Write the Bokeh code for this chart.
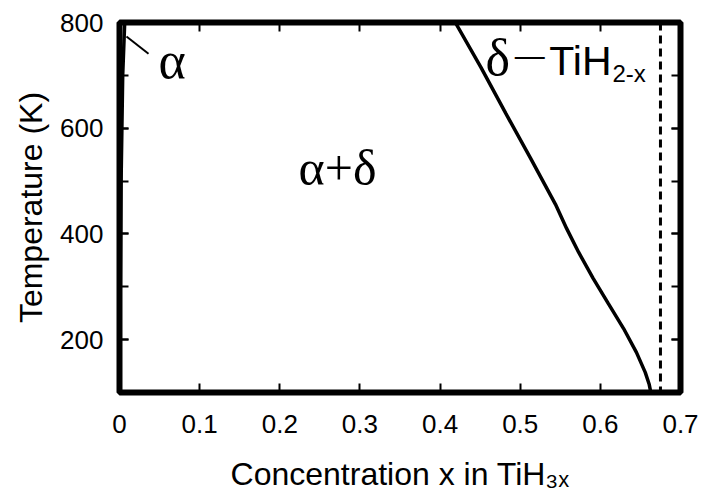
from bokeh.plotting import figure
from bokeh.models import Range1d, FixedTicker, LinearAxis, Label, Span, CustomJSTickFormatter, Title
from bokeh.embed import file_html
from bokeh.resources import INLINE

# ---- data ----
delta_T = [800, 715, 628, 543, 456, 410, 365, 316, 268, 221, 176, 138, 115, 100]
delta_x = [0.419, 0.451, 0.482, 0.513, 0.544, 0.558, 0.573, 0.591, 0.610, 0.629, 0.645, 0.656, 0.661, 0.663]

alpha_T = [100, 300, 500, 600, 700, 800]
alpha_x = [0.0, 0.001, 0.002, 0.003, 0.004, 0.0065]

stoich_x = 0.675  # dashed vertical boundary

leader_x = [0.0087, 0.0362]
leader_y = [773.5, 741.0]

x_ticks = [0, 0.1, 0.2, 0.3, 0.4, 0.5, 0.6, 0.7]
x_tick_labels = ["0", "0.1", "0.2", "0.3", "0.4", "0.5", "0.6", "0.7"]
y_ticks = [200, 400, 600, 800]
y_minor = [100, 200, 300, 400, 500, 600, 700, 800]

SANS = "Liberation Sans"
SERIF = "Liberation Serif"

p = figure(width=703, height=499, x_range=Range1d(0, 0.7), y_range=Range1d(100, 800),
           output_backend="svg", toolbar_location=None,
           min_border_left=119, min_border_right=23, min_border_top=22, min_border_bottom=107,
           x_axis_type=None, y_axis_type=None)
p.grid.visible = False
p.outline_line_color = "black"
p.outline_line_width = 6
p.outline_line_alpha = 1.0
p.background_fill_color = "white"
p.border_fill_color = "white"

xt = FixedTicker(ticks=x_ticks, minor_ticks=[])
yt = FixedTicker(ticks=y_ticks, minor_ticks=y_minor)
blank = CustomJSTickFormatter(code="return ''")

def style(ax, labels=True):
    ax.axis_line_color = None
    ax.major_tick_in = 9
    ax.major_tick_out = 0
    ax.minor_tick_in = 9
    ax.minor_tick_out = 0
    ax.major_tick_line_width = 2
    ax.minor_tick_line_width = 2
    ax.major_tick_line_color = "black"
    ax.minor_tick_line_color = "black"
    ax.major_label_text_font = SANS
    ax.major_label_text_font_size = "26px"
    ax.major_label_text_color = "black"
    if not labels:
        ax.formatter = blank

bottom = LinearAxis(ticker=xt, major_label_overrides={t: s for t, s in zip(x_ticks, x_tick_labels)})
style(bottom)
bottom.major_label_standoff = 22
bottom.axis_label = "Concentration x in TiH\u2083\u2093"
bottom.axis_label_text_font = "Liberation Sans, DejaVu Sans"
bottom.axis_label_text_font_size = "32px"
bottom.axis_label_text_font_style = "normal"
bottom.axis_label_text_color = "black"
bottom.axis_label_standoff = 20
p.add_layout(bottom, "below")

left = LinearAxis(ticker=yt)
style(left)
left.major_label_standoff = 16
p.add_layout(left, "left")

top = LinearAxis(ticker=xt)
style(top, labels=False)
p.add_layout(top, "above")

right = LinearAxis(ticker=yt)
style(right, labels=False)
p.add_layout(right, "right")

ytitle = Title(text="Temperature (K)", align="center", offset=40,
               text_font=SANS, text_font_size="32px", text_font_style="normal",
               text_color="black", standoff=17)
p.add_layout(ytitle, "left")

# ---- curves ----
p.line(alpha_x, alpha_T, line_color="black", line_width=3.5)
p.line(delta_x, delta_T, line_color="black", line_width=3.5)
p.add_layout(Span(location=stoich_x, dimension="height", line_color="black",
                  line_width=3, line_dash="8 5"))
p.line(leader_x, leader_y, line_color="black", line_width=2)

# ---- texts ----
def lab(x, y, text, font, size):
    p.add_layout(Label(x=x, y=y, text=text, text_font=font, text_font_size=size,
                       text_align="left", text_baseline="alphabetic", text_color="black"))

lab(0.0487, 729.0, "α", SERIF, "52px")
lab(0.2234, 524.0, "α+δ", SERIF, "50px")
lab(0.4567, 734.5, "δ", SERIF, "52px")
lab(0.4932, 737.0, "—", SANS, "30px")
lab(0.5363, 728.0, "TiH", SANS, "41px")
lab(0.6150, 704.0, "2-x", SANS, "24px")

open("out.html", "w").write(file_html(p, INLINE))
